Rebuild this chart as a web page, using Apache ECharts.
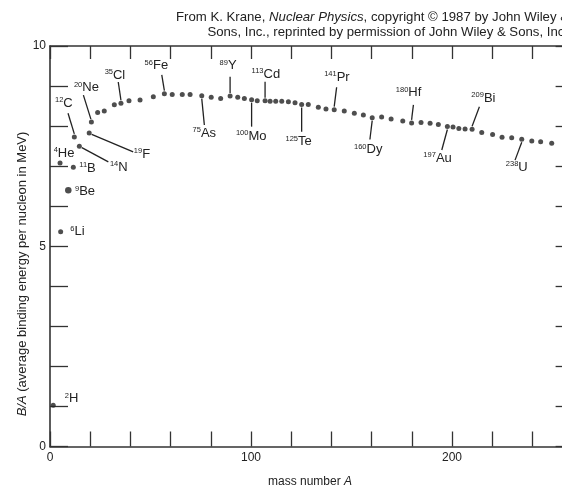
<!DOCTYPE html>
<html><head><meta charset="utf-8">
<script src="https://cdn.jsdelivr.net/npm/echarts@6/dist/echarts.min.js"></script>
<style>html,body{margin:0;padding:0;overflow:hidden;background:#fff}#c{width:580px;height:489px}</style>
</head><body><div id="c"></div>
<script>
// Isolated light nuclides (mass number A, B/A in MeV)
const lightA = [1.6, 5.0, 5.3, 9.1, 11.6, 12.1, 14.6, 19.5, 20.6];
const lightB = [1.03, 7.08, 5.36, 6.40, 6.97, 7.73, 7.50, 7.83, 8.10];
// Main curve of dots
const curveA = [23.7, 27.0, 32.0, 35.3, 39.3, 44.8, 51.4, 56.9, 60.8, 65.8, 69.7, 75.5, 80.2, 84.9, 89.6, 93.4, 96.7, 100.3, 103.1, 107.0, 109.5, 112.3, 115.3, 118.6, 121.9, 125.2, 128.5, 133.5, 137.3, 141.4, 146.4, 151.4, 155.9, 160.3, 165.0, 169.7, 175.5, 179.9, 184.6, 189.1, 193.2, 197.7, 200.5, 203.4, 206.5, 210.0, 214.8, 220.2, 224.9, 229.7, 234.7, 239.7, 244.1, 249.6];
const curveB = [8.34, 8.38, 8.53, 8.57, 8.63, 8.65, 8.73, 8.81, 8.79, 8.79, 8.79, 8.76, 8.72, 8.69, 8.75, 8.72, 8.69, 8.66, 8.63, 8.63, 8.62, 8.62, 8.62, 8.61, 8.58, 8.54, 8.54, 8.47, 8.43, 8.41, 8.38, 8.32, 8.28, 8.21, 8.23, 8.18, 8.13, 8.08, 8.09, 8.07, 8.04, 7.99, 7.98, 7.94, 7.93, 7.92, 7.84, 7.79, 7.72, 7.71, 7.67, 7.63, 7.61, 7.57];
// Labelled nuclides
const labelMass = ['2', '4', '6', '9', '11', '12', '14', '19', '20', '35', '56', '75', '89', '100', '113', '125', '141', '160', '180', '197', '209', '238'];
const labelSymbol = ['H', 'He', 'Li', 'Be', 'B', 'C', 'N', 'F', 'Ne', 'Cl', 'Fe', 'As', 'Y', 'Mo', 'Cd', 'Te', 'Pr', 'Dy', 'Hf', 'Au', 'Bi', 'U'];
const labelA = [1.6, 5.0, 5.3, 9.1, 11.6, 12.1, 14.6, 19.5, 20.6, 35.3, 56.9, 75.5, 89.6, 100.3, 107.0, 125.2, 141.4, 160.3, 179.9, 197.7, 210.0, 234.7];
const labelB = [1.03, 7.08, 5.36, 6.40, 6.97, 7.73, 7.50, 7.83, 8.10, 8.57, 8.81, 8.76, 8.75, 8.66, 8.63, 8.54, 8.41, 8.21, 8.08, 7.99, 7.92, 7.67];
// Tick labels
const xTickLabels = [0, 100, 200];
const yTickLabels = [0, 5, 10];

// Label layout (pixel offsets from the dot: t = text centre, l = leader line)
const labelLayout = {
  H: {t: [18.4, -6.5]}, He: {t: [4, -10]}, Li: {t: [16.8, 0]}, Be: {t: [16.7, 1.7]}, B: {t: [14.2, 1]},
  C: {t: [-10.5, -33.7], l: [-6.3, -23.7, 0, -3]},
  N: {t: [39.4, 21.3], l: [2.5, 1.5, 29, 15.7]},
  F: {t: [52.8, 21.3], l: [2.5, 1.5, 44, 19]},
  Ne: {t: [-5, -34.5], l: [-8, -27, -0.5, -3]},
  Cl: {t: [-6, -28], l: [-2.7, -21.3, 0, -3]},
  Fe: {t: [-8, -28], l: [-2.6, -18.7, 0, -3]},
  As: {t: [2.6, 37.3], l: [0, 3, 2.6, 29.3]},
  Y: {t: [-2, -30.3], l: [0, -19.3, 0, -3]},
  Mo: {t: [-0.4, 36.3], l: [0, 3, 0, 27]},
  Cd: {t: [0.8, -26.7], l: [0, -19, 0, -3]},
  Te: {t: [-3, 37.4], l: [0, 3, 0, 27.4]},
  Pr: {t: [2.7, -32.4], l: [2.4, -22.4, 0, -3]},
  Dy: {t: [-4, 31.8], l: [0, 3, -2.3, 21.8]},
  Hf: {t: [-3, -30.3], l: [1.8, -18, 0, -3]},
  Au: {t: [-9.8, 31.8], l: [0, 3, -5.6, 23.5]},
  Bi: {t: [11.3, -31], l: [7.3, -22.6, 0, -3]},
  U: {t: [-5, 28], l: [0, 3, -6.7, 20.8]}
};

const FONT = 'Liberation Sans, Arial, Helvetica, sans-serif';
const INK = '#222';
const chart = echarts.init(document.getElementById('c'), null, {renderer: 'canvas'});

const axisLineStyle = {color: '#333', width: 1.6};
const tickStyle = {color: '#333', width: 1.3};

chart.setOption({
  animation: false,
  backgroundColor: '#fff',
  grid: {left: 50, right: 7.4, top: 46, bottom: 42.5, containLabel: false},
  xAxis: [
    {type: 'value', min: 0, max: 260, interval: 20, position: 'bottom',
      axisLine: {onZero: false, lineStyle: axisLineStyle}, axisTick: {inside: true, length: 15, lineStyle: tickStyle},
      axisLabel: {margin: 5, color: INK, fontSize: 12, fontFamily: FONT,
        formatter: v => xTickLabels.includes(v) ? String(v) : ''},
      splitLine: {show: false}},
    {type: 'value', min: 0, max: 260, interval: 20, position: 'top',
      axisLine: {onZero: false, lineStyle: axisLineStyle}, axisTick: {inside: true, length: 13, lineStyle: tickStyle},
      axisLabel: {show: false}, splitLine: {show: false}}
  ],
  yAxis: [
    {type: 'value', min: 0, max: 10, interval: 1, position: 'left',
      axisLine: {show: true, onZero: false, lineStyle: axisLineStyle}, axisTick: {show: true, inside: true, length: 18, lineStyle: tickStyle},
      axisLabel: {margin: 4, color: INK, fontSize: 12, fontFamily: FONT,
        formatter: v => yTickLabels.includes(v) ? String(v) : ''},
      splitLine: {show: false}},
    {type: 'value', min: 0, max: 10, interval: 1, position: 'right',
      axisLine: {show: true, onZero: false, lineStyle: axisLineStyle}, axisTick: {show: true, inside: true, length: 17, lineStyle: tickStyle},
      axisLabel: {show: false}, splitLine: {show: false}}
  ],
  graphic: [
    {type: 'text', x: 569, y: 17, style: {text: 'From K. Krane, {i|Nuclear Physics}, copyright © 1987 by John Wiley &',
      fill: INK, font: '13.2px ' + FONT, align: 'right', verticalAlign: 'middle',
      rich: {i: {fontStyle: 'italic', fontSize: 13.2, fontFamily: FONT, fill: INK}}}},
    {type: 'text', x: 568, y: 32, style: {text: 'Sons, Inc., reprinted by permission of John Wiley & Sons, Inc.',
      fill: INK, font: '13.2px ' + FONT, align: 'right', verticalAlign: 'middle'}},
    {type: 'text', x: 22, y: 274, rotation: Math.PI / 2,
      style: {text: '{i|B/A} (average binding energy per nucleon in MeV)', fill: INK, font: '13px ' + FONT,
        align: 'center', verticalAlign: 'middle',
        rich: {i: {fontStyle: 'italic', fontSize: 13, fontFamily: FONT, fill: INK}}}},
    {type: 'text', x: 310, y: 482,
      style: {text: 'mass number {i|A}', fill: INK, font: '12px ' + FONT, align: 'center', verticalAlign: 'middle',
        rich: {i: {fontStyle: 'italic', fontSize: 12, fontFamily: FONT, fill: INK}}}}
  ],
  series: [
    {type: 'scatter', name: 'light', symbol: 'circle',
      symbolSize: (v, p) => (p.dataIndex === 3 ? 6.5 : 5),
      itemStyle: {color: INK}, data: lightA.map((a, i) => [a, lightB[i]])},
    {type: 'scatter', name: 'curve', symbol: 'circle', symbolSize: 5,
      itemStyle: {color: INK}, data: curveA.map((a, i) => [a, curveB[i]])},
    {type: 'custom', name: 'labels', coordinateSystem: 'cartesian2d', silent: true, clip: false,
      data: labelA.map((a, i) => [a, labelB[i]]),
      renderItem: function (params, api) {
        const i = params.dataIndex;
        const p = api.coord([api.value(0), api.value(1)]);
        const sym = labelSymbol[i];
        const L = labelLayout[sym];
        const children = [];
        if (L.l) {
          children.push({type: 'line', shape: {x1: p[0] + L.l[0], y1: p[1] + L.l[1], x2: p[0] + L.l[2], y2: p[1] + L.l[3]},
            style: {stroke: INK, lineWidth: 1.3}});
        }
        children.push({type: 'text', x: p[0] + L.t[0], y: p[1] + L.t[1],
          style: {text: '{s|' + labelMass[i] + '}{e|' + sym + '}', align: 'center', verticalAlign: 'middle', fill: INK,
            font: '13px ' + FONT,
            rich: {s: {fontSize: 7.5, fontFamily: FONT, verticalAlign: 'top', lineHeight: 8, fill: INK},
                   e: {fontSize: 13, fontFamily: FONT, lineHeight: 14, fill: INK}}}});
        return {type: 'group', children: children};
      }}
  ]
});
</script></body></html>
